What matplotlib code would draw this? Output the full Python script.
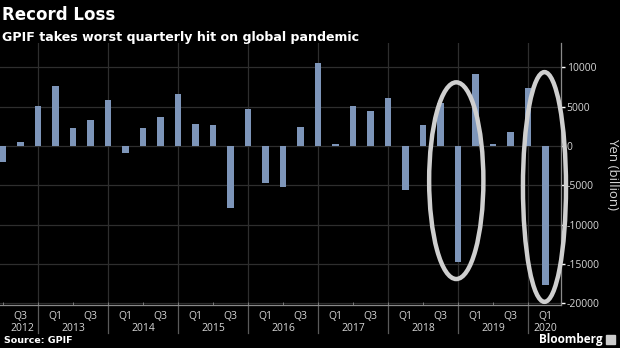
import matplotlib
matplotlib.use("Agg")
import matplotlib.pyplot as plt
from matplotlib.patches import Ellipse
from matplotlib.ticker import FixedLocator

# quarterly investment gain/loss, Q2 2012 .. Q1 2020 (yen billion)
years = [2012, 2012, 2012] + [y for y in range(2013, 2020) for _ in range(4)] + [2020]
quarters = [2, 3, 4] + [1, 2, 3, 4] * 7 + [1]
values = [-2050, 550, 5130,
          7630, 2250, 3260, 5800,
          -930, 2250, 3640, 6650,
          2840, 2630, -7840, 4750,
          -4750, -5170, 2370, 10510,
          300, 5130, 4490, 6060,
          -5550, 2670, 5500, -14740,
          9150, 250, 1780, 7370,
          -17660]
yticks = [10000, 5000, 0, -5000, -10000, -15000, -20000]

# quarters to circle
highlight = [(2018, 4), (2020, 1)]

bar_color = "#7d95b9"
grid_color = "#2e2e2e"
text_color = "#d6d6d6"

plt.rcParams['font.family'] = ['Open Sans', 'DejaVu Sans']

fig = plt.figure(figsize=(6.2, 3.48), dpi=100, facecolor="black")
ax = fig.add_axes([0.0, 0.1236, 0.905, 0.7529], facecolor="black")

x = list(range(len(values)))
ax.bar(x, values, width=0.36, color=bar_color, zorder=3)

ax.set_xlim(-0.17, 31.89)
ax.set_ylim(-20200, 13100)

# year boundaries sit on each Q4 bar
year_bounds = [i for i, q in enumerate(quarters) if q == 4]
for b in year_bounds:
    ax.axvline(b, color=grid_color, lw=0.9, zorder=1)
for v in yticks:
    ax.axhline(v, color=grid_color, lw=0.9, zorder=1)

# right-hand value axis
ax.yaxis.tick_right()
ax.yaxis.set_label_position("right")
ax.set_yticks(yticks)
ax.set_yticklabels([str(v) for v in yticks])
ax.tick_params(axis="y", colors="white", labelcolor=text_color, length=3,
               width=1, labelsize=7.5, pad=1)
ax.set_ylabel("Yen (billion)", color=text_color, fontsize=9.5,
              rotation=270, labelpad=14)

for side in ["left", "top"]:
    ax.spines[side].set_visible(False)
ax.spines["right"].set_color("#8a8a8a")
ax.spines["bottom"].set_color("#8a8a8a")
ax.spines["right"].set_linewidth(0.9)
ax.spines["bottom"].set_linewidth(0.9)

# quarter labels (Q1 / Q3) on the x axis
qpos = [i for i, q in enumerate(quarters) if q in (1, 3)]
ax.set_xticks(qpos)
ax.set_xticklabels(["Q%d" % quarters[i] for i in qpos])
ax.xaxis.set_minor_locator(FixedLocator(x))
ax.tick_params(axis="x", which="both", direction="in", colors="#8a8a8a",
               labelcolor=text_color, labelsize=7.5, pad=4)
ax.tick_params(axis="x", which="major", length=0)
ax.tick_params(axis="x", which="minor", length=2)

# year labels, centred on the visible part of each year
trans = ax.get_xaxis_transform()
for y in range(2012, 2021):
    idx = [i for i, yy in enumerate(years) if yy == y]
    if y == 2012:
        c = 1.1
    elif y == 2020:
        c = idx[0]
    else:
        c = (idx[0] - 1 + idx[-1]) / 2
    ax.text(c, -0.088, str(y), transform=trans, ha="center", va="center",
            color=text_color, fontsize=7.5)
# separators between years in the label band
for b in year_bounds:
    ax.plot([b, b], [0, -0.107], transform=trans, color="#5a5a5a", lw=0.9,
            clip_on=False, zorder=2)

# ellipses round the two big losses
ell_specs = [(25.9, -4400, 3.1, 25000), (30.94, -5200, 2.46, 29200)]
for (yy, qq), (cx, cy, w, h) in zip(highlight, ell_specs):
    ax.add_patch(Ellipse((cx, cy), w, h, fill=False, edgecolor="#cfcfcf",
                         lw=3.2, zorder=4, clip_on=False))

head = ['DejaVu Sans']
fig.text(0.004, 0.957, "Record Loss", color="white", fontsize=12,
         fontweight="bold", va="center", ha="left", family=head)
fig.text(0.004, 0.893, "GPIF takes worst quarterly hit on global pandemic",
         color="white", fontsize=9.1, fontweight="bold", va="center", ha="left",
         family=head)
fig.text(0.006, 0.022, "Source: GPIF", color="white", fontsize=6.8,
         fontweight="bold", va="center", ha="left", family=head)
fig.text(0.972, 0.025, "Bloomberg", color="white", fontsize=8.5,
         fontweight="bold", va="center", ha="right")
fig.patches.append(plt.Rectangle((0.978, 0.012), 0.014, 0.026,
                                 transform=fig.transFigure, color="#cccccc",
                                 figure=fig))

fig.savefig("out.png", dpi=100, facecolor="black")
